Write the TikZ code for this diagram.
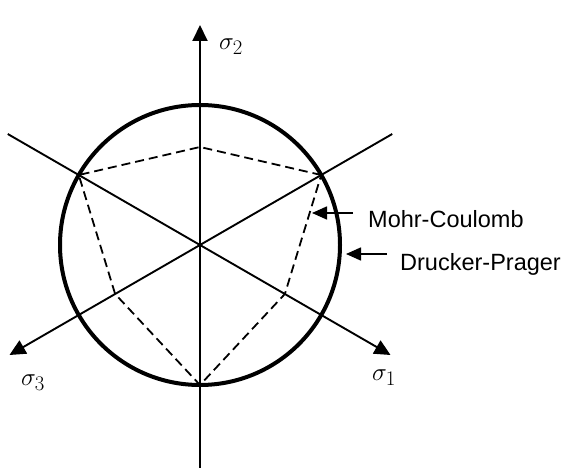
\documentclass[tikz,border=0pt]{standalone}
\usepackage{fontspec}
\setmainfont{Liberation Sans}
\usetikzlibrary{arrows.meta}
\begin{document}
\begin{tikzpicture}[x=1pt,y=1pt,
  axisline/.style={line width=1.9pt,-{Triangle[length=16pt,width=15pt]}},
  dpcircle/.style={line width=4pt},
  mchex/.style={line width=1.8pt,dash pattern=on 9pt off 5pt},
  lblarrow/.style={line width=1.6pt,-{Triangle[length=15pt,width=13pt]}},
  lbltext/.style={font=\fontsize{23.5}{27}\selectfont,anchor=base west,inner sep=0pt},
  sigtext/.style={font=\fontsize{28}{32}\selectfont,inner sep=0pt}]
\useasboundingbox (0,0) rectangle (565,468);
\coordinate (O) at (200,223);
\begin{scope}[shift={(O)}]
  \coordinate (ytop) at (90:220);
  \coordinate (ybot) at (0,-223);
  \coordinate (s1) at (-30:220);
  \coordinate (s1b) at (150:222);
  \coordinate (s3) at (210:220);
  \coordinate (s3b) at (30:222);
  \coordinate (h1) at (30:140);
  \coordinate (h2) at (90:98);
  \coordinate (h3) at (150:140);
  \coordinate (h4) at (210:98);
  \coordinate (h5) at (270:140);
  \coordinate (h6) at (330:98);
\end{scope}
% Drucker-Prager circle
\draw[dpcircle] (O) circle (140);
% Mohr-Coulomb hexagon
\draw[mchex] (h1) -- (h2) -- (h3) -- (h4) -- (h5) -- (h6) -- cycle;
% axes
\draw[axisline] (ybot) -- (ytop);
\draw[axisline] (s1b) -- (s1);
\draw[axisline] (s3b) -- (s3);
% axis labels
\node[sigtext] (l2) at (231,421) {$\sigma_2$};
\node[sigtext] (l3) at (33,85) {$\sigma_3$};
\node[sigtext] (l1) at (384,90) {$\sigma_1$};
% legend labels
\coordinate (mcA) at (353,255);
\coordinate (mcT) at (312,255);
\draw[lblarrow] (mcA) -- (mcT);
\node[lbltext] (mc) at (368,240) {Mohr-Coulomb};
\coordinate (dpA) at (387,214);
\coordinate (dpT) at (346,214);
\draw[lblarrow] (dpA) -- (dpT);
\node[lbltext] (dp) at (400,197) {Drucker-Prager};
\end{tikzpicture}
\end{document}
